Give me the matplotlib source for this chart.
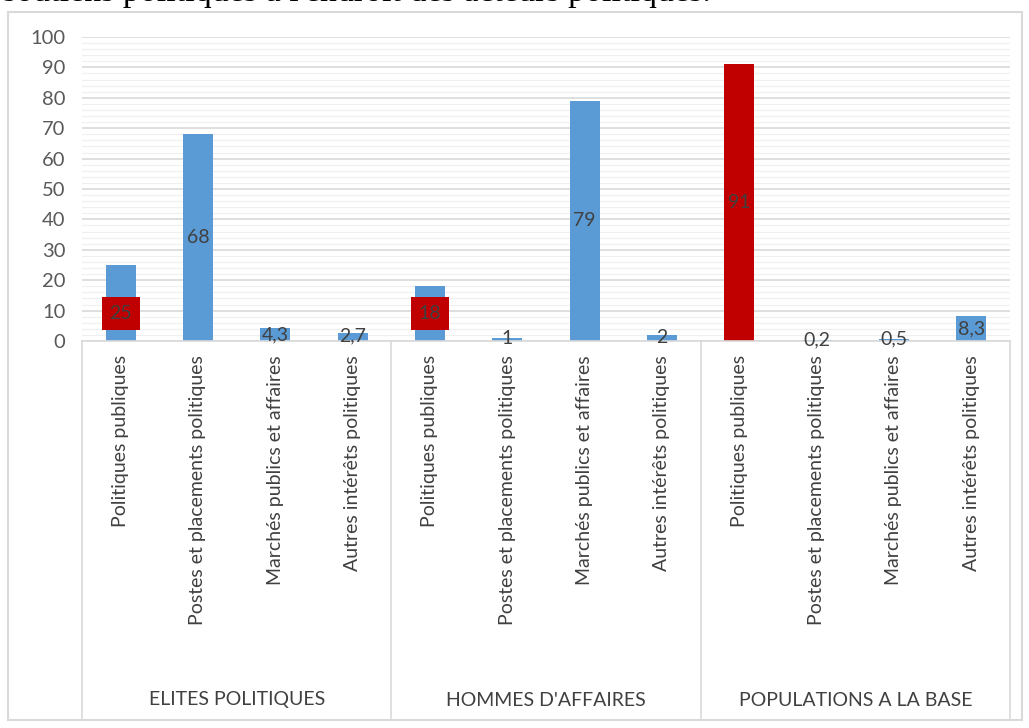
import numpy as np
import matplotlib.pyplot as plt
from matplotlib.patches import Rectangle
from matplotlib.transforms import blended_transform_factory

plt.rcParams['font.family'] = ['Lato', 'DejaVu Sans']

groups = ["ELITES POLITIQUES", "HOMMES D'AFFAIRES", "POPULATIONS A LA BASE"]
categories = ["Politiques publiques", "Postes et placements politiques",
              "Marchés publics et affaires", "Autres intérêts politiques"]
values = [25, 68, 4.3, 2.7,
          18, 1, 79, 2,
          91, 0.2, 0.5, 8.3]
labels = ["25", "68", "4,3", "2,7",
          "18", "1", "79", "2",
          "91", "0,2", "0,5", "8,3"]
red_bars = [8]
red_labels = [0, 4]
# the two highlighted labels were dragged lower in the original chart
label_pos = {0: 9, 4: 9}

blue = "#5B9BD5"
red = "#C00000"
txt = "#404040"
grid = "#D9D9D9"

W, H = 1029, 728
fig = plt.figure(figsize=(W / 100, H / 100), dpi=100)
fig.patch.set_facecolor("white")

# outer chart frame
fig.add_artist(Rectangle((8 / W, 8 / H), (1022 - 8) / W, (718 - 10) / H,
                         transform=fig.transFigure, fill=False,
                         edgecolor=grid, lw=1.5))

# cut-off sentence from the document above the chart
fig.text(3 / W, 1 - 1 / H,
         "soutiens politiques à l'endroit des acteurs politiques.",
         family="Liberation Serif", fontsize=24.5, color="black",
         ha="left", va="baseline")

ax = fig.add_axes([82 / W, (H - 341) / H, (1010 - 82) / W, (341 - 37) / H])
ax.set_axisbelow(True)
x = np.arange(len(values))
colors = [red if i in red_bars else blue for i in range(len(values))]
ax.bar(x, values, width=0.39, color=colors, zorder=3)

ax.set_xlim(-0.5, len(values) - 0.5)
ax.set_ylim(0, 100)
ax.set_yticks(np.arange(0, 101, 10))
ax.set_yticks(np.arange(0, 101, 2), minor=True)
ax.tick_params(axis="y", which="both", length=0, pad=12, labelsize=14.5,
               labelcolor="#595959")
ax.grid(axis="y", which="major", color=grid, lw=1.2)
ax.grid(axis="y", which="minor", color="#F0F0F0", lw=0.9)
ax.set_xticks([])
for s in ["top", "right", "left"]:
    ax.spines[s].set_visible(False)
ax.spines["bottom"].set_color(grid)
ax.spines["bottom"].set_linewidth(1.2)
ax.spines["bottom"].set_zorder(4)

# data labels
for i, (v, lab) in enumerate(zip(values, labels)):
    kw = {}
    if i in red_labels:
        kw["bbox"] = dict(boxstyle="square,pad=0.4", fc=red, ec="none")
    y = label_pos.get(i, v / 2 if v > 3 else v / 2 + 0.3)
    ax.text(i, y, lab, ha="center", va="center",
            fontsize=14, color=txt, zorder=10, **kw)

trans = blended_transform_factory(ax.transData, ax.transAxes)
bottom = -(718 - 341) / (341 - 37)

# category labels
for i in range(len(values)):
    ax.text(i, -14 / 304, categories[i % 4], rotation=90, ha="center",
            va="top", fontsize=14, color=txt, transform=trans)

# group separators and group labels
for g in range(len(groups) + 1):
    xs = g * 4 - 0.5
    ax.plot([xs, xs], [0, bottom], color=grid, lw=1.2, transform=trans,
            clip_on=False)
for g, name in enumerate(groups):
    ax.text(g * 4 + 1.5, -(700 - 341) / 304, name, ha="center", va="center",
            fontsize=14, color=txt, transform=trans)

fig.savefig("out.png", dpi=100)
